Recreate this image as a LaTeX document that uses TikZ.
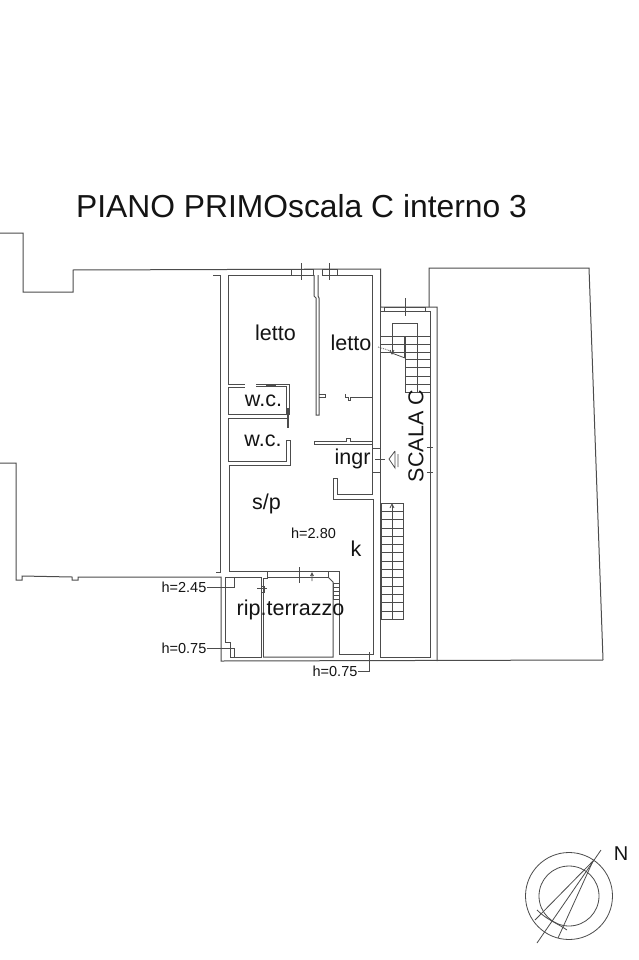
\documentclass[tikz,border=0pt]{standalone}
\usepackage{fontspec}
\setmainfont{Liberation Sans}
\definecolor{wallgray}{gray}{0.3}
\tikzset{
    wall/.style={wallgray, line width=1pt, line join=miter},
    thin wall/.style={wallgray, line width=0.8pt},
    room/.style={font=\fontsize{21.5}{22}\selectfont, inner sep=0pt, anchor=base, text=black!92},
    level/.style={font=\fontsize{14.5}{15}\selectfont, inner sep=0pt, anchor=base, text=black!92}
}
\begin{document}
\begin{tikzpicture}[x=1pt, y=-1pt]
    \useasboundingbox (0, 0) rectangle (639, 960);
    \fill[white] (0, 0) rectangle (639, 960);

    % Title
    \node[inner sep=0pt, font=\fontsize{31.8}{33}\selectfont, text=black!92] (title) at (301.5, 206) {PIANO PRIMOscala C interno 3};

    % Outer outline, left side
    \draw[wall] (0, 233) -- (23, 233) -- (23, 292) -- (73, 292) -- (73, 270) -- (380.5, 269) -- (380.5, 307) -- (437, 307) -- (437, 661);
    \draw[wall] (0, 463) -- (16, 463) -- (16, 580) -- (22, 580) -- (22, 576) -- (72, 577) -- (72, 580) -- (78, 580) -- (78, 577) -- (221, 577) -- (221, 661) -- (603, 660);
    \draw[wall] (213, 275) -- (220, 275) -- (220, 572) -- (216, 572);

    % Block on the right
    \draw[wall] (429, 307) -- (429, 268) -- (589, 268) -- (603, 660);

    % Rooms
    \draw[wall] (314, 275) -- (228, 275) -- (228, 384) -- (245, 384);
    \draw[wall] (322, 275) -- (372, 275) -- (372, 494) -- (337, 494) -- (337, 478) -- (333, 478) -- (333, 499) -- (373, 499) -- (373, 654) -- (339, 654) -- (339, 571) -- (229, 571) -- (229, 465) -- (290, 465) -- (290, 440) -- (286, 440) -- (286, 461) -- (228, 461) -- (228, 418) -- (288, 418);
    \draw[wall] (228, 387) -- (245, 387);
    \draw[wall] (228, 387) -- (228, 414) -- (286, 414) -- (286, 386) -- (256, 386);
    \draw[wall] (256, 384) -- (289, 384) -- (289, 415);
    \draw[wall, line width=1.4pt] (288, 408) -- (288, 428);
    \draw[wall, line width=2pt] (266, 385) -- (276, 385);

    % Wall between the bedrooms
    \draw[wall] (314, 275) -- (314, 296) -- (316, 298) -- (316, 415) -- (319, 415) -- (319, 298) -- (318, 296) -- (318, 275);
    \draw[wall] (319, 394) -- (325, 394) -- (325, 397) -- (319, 397);
    \draw[wall] (345, 394) -- (345, 397) -- (348, 397) -- (348, 400) -- (350, 400) -- (350, 397) -- (372, 397);
    \draw[wall] (314, 441) -- (346, 441) -- (346, 438) -- (350, 438) -- (350, 441) -- (372, 441);
    \draw[wall] (314, 441) -- (314, 444) -- (372, 444);

    % Top windows
    \draw[wall] (291, 269) rectangle (313, 275);
    \draw[wall] (322, 269) rectangle (337, 275);
    \foreach \x/\top in {301/263, 329/263} {
        \draw[thin wall] (\x, \top) -- (\x, 280);
    }
    \draw[wall] (384, 307) rectangle (425, 311);
    \draw[thin wall] (405, 298) -- (405, 316);

    % Stair room
    \draw[wall] (380.5, 307) -- (380.5, 657) -- (430, 657) -- (430, 311) -- (380.5, 311);

    % Upper flight
    \draw[wall] (392, 353) -- (392, 323) -- (417, 323) -- (417, 392);
    \draw[wall, line width=1.8pt] (405, 336) -- (405, 358);
    \draw[thin wall] (405, 358) -- (405, 392);
    \foreach \y in {336, 344, 352} {
        \draw[thin wall] (381, \y) -- (430, \y);
    }
    \foreach \y in {359, 367, 376, 384, 392} {
        \draw[thin wall] (405, \y) -- (430, \y);
    }
    \draw[thin wall] (389, 352) -- (405, 358);
    \draw[thin wall] (390, 350) -- (392, 354) -- (394, 350);
    \draw[thin wall, densely dotted] (378, 347) -- (391, 351);

    % Lower flight
    \draw[wall] (381, 503) rectangle (403, 619);
    \foreach \y in {511.3, 519.6, 527.9, 536.2, 544.5, 552.8, 561.1, 569.4, 577.7, 586, 594.3, 602.6, 610.9} {
        \draw[thin wall] (381, \y) -- (403, \y);
    }
    \draw[thin wall] (392, 619) -- (392, 505);
    \draw[thin wall] (390, 508) -- (392, 504) -- (394, 508);

    % Entrance door and marks
    \draw[thin wall] (372, 448) -- (381, 448);
    \draw[thin wall] (372, 472) -- (381, 472) ;
    \draw[thin wall] (375, 459.5) -- (385, 459.5);
    \draw[thin wall] (398, 454) -- (398, 467) (395, 451) -- (389, 459) -- (395, 468) -- (395, 451);
    \foreach \y in {447, 472} {
        \draw[thin wall] (427, \y) -- (433, \y);
    }

    % Room under the stairs
    \draw[wall] (230, 657) -- (230, 642) -- (225, 642) -- (225, 577) -- (261, 577) -- (261, 657) -- (230, 657);
    \draw[thin wall] (257, 588) -- (267, 588);
    \draw[thin wall] (261, 586) -- (264, 586) -- (264, 592) -- (261, 592);

    % Terrace
    \draw[wall] (263, 657) -- (263, 578) -- (267, 578) -- (267, 571);
    \draw[wall] (267, 577) -- (328, 577) -- (328, 571);
    \draw[wall] (328, 577) -- (333, 582) -- (333, 657) -- (263, 657);
    \draw[wall] (333, 583) rectangle (339, 599);
    \foreach \y in {587, 591, 595} {
        \draw[thin wall] (333, \y) -- (339, \y);
    }
    \draw[thin wall] (299, 567) -- (299, 583);
    \draw[thin wall] (312, 581) -- (312, 574) (310.5, 576) -- (312, 573) -- (313.5, 576);

    % Room labels
    \node[room] (letto1) at (275.5, 340) {letto};
    \node[room] (letto2) at (351, 350.5) {letto};
    \node[room] (wc1) at (263.5, 406.7) {w.c.};
    \node[room] (wc2) at (263, 446.7) {w.c.};
    \node[room] (ingr) at (352.5, 464.5) {ingr};
    \node[room] (sp) at (266.5, 509) {s/p};
    \node[room] (k) at (356, 556.7) {k};
    \node[room] (rip) at (290.5, 615.7) {rip.terrazzo};
    \node[room, anchor=center, rotate=90] (scala) at (416, 436) {SCALA C};

    % Levels with leaders
    \node[level] (h280) at (313.5, 538) {h=2.80};
    \node[level] (h245) at (184, 592.3) {h=2.45};
    \node[level] (h075a) at (184, 653.7) {h=0.75};
    \node[level] (h075b) at (335, 676.7) {h=0.75};
    \coordinate (a245) at (234, 577);
    \coordinate (a075) at (234, 657);
    \coordinate (b075) at (369, 652);
    \draw[thin wall] (h245.east) -- (a245 |- h245.east) -- (a245);
    \draw[thin wall] (h075a.east) -- (a075 |- h075a.east) -- (a075);
    \draw[thin wall] (h075b.east) -- (b075 |- h075b.east) -- (b075);

    % North arrow
    \coordinate (needle) at (593, 861);
    \draw[thin wall] (569, 896) circle (43.5);
    \draw[thin wall] (569, 896) circle (30);
    \draw[thin wall] (601, 850) -- (537, 943);
    \draw[thin wall] (535, 920) -- (needle) -- (558, 938);
    \draw[thin wall] (537, 910) .. controls (547, 920) and (557, 923) .. (567, 930);
    \node[inner sep=0pt, font=\fontsize{20}{20}\selectfont, text=black!92] (north) at (621, 854) {N};
\end{tikzpicture}
\end{document}
